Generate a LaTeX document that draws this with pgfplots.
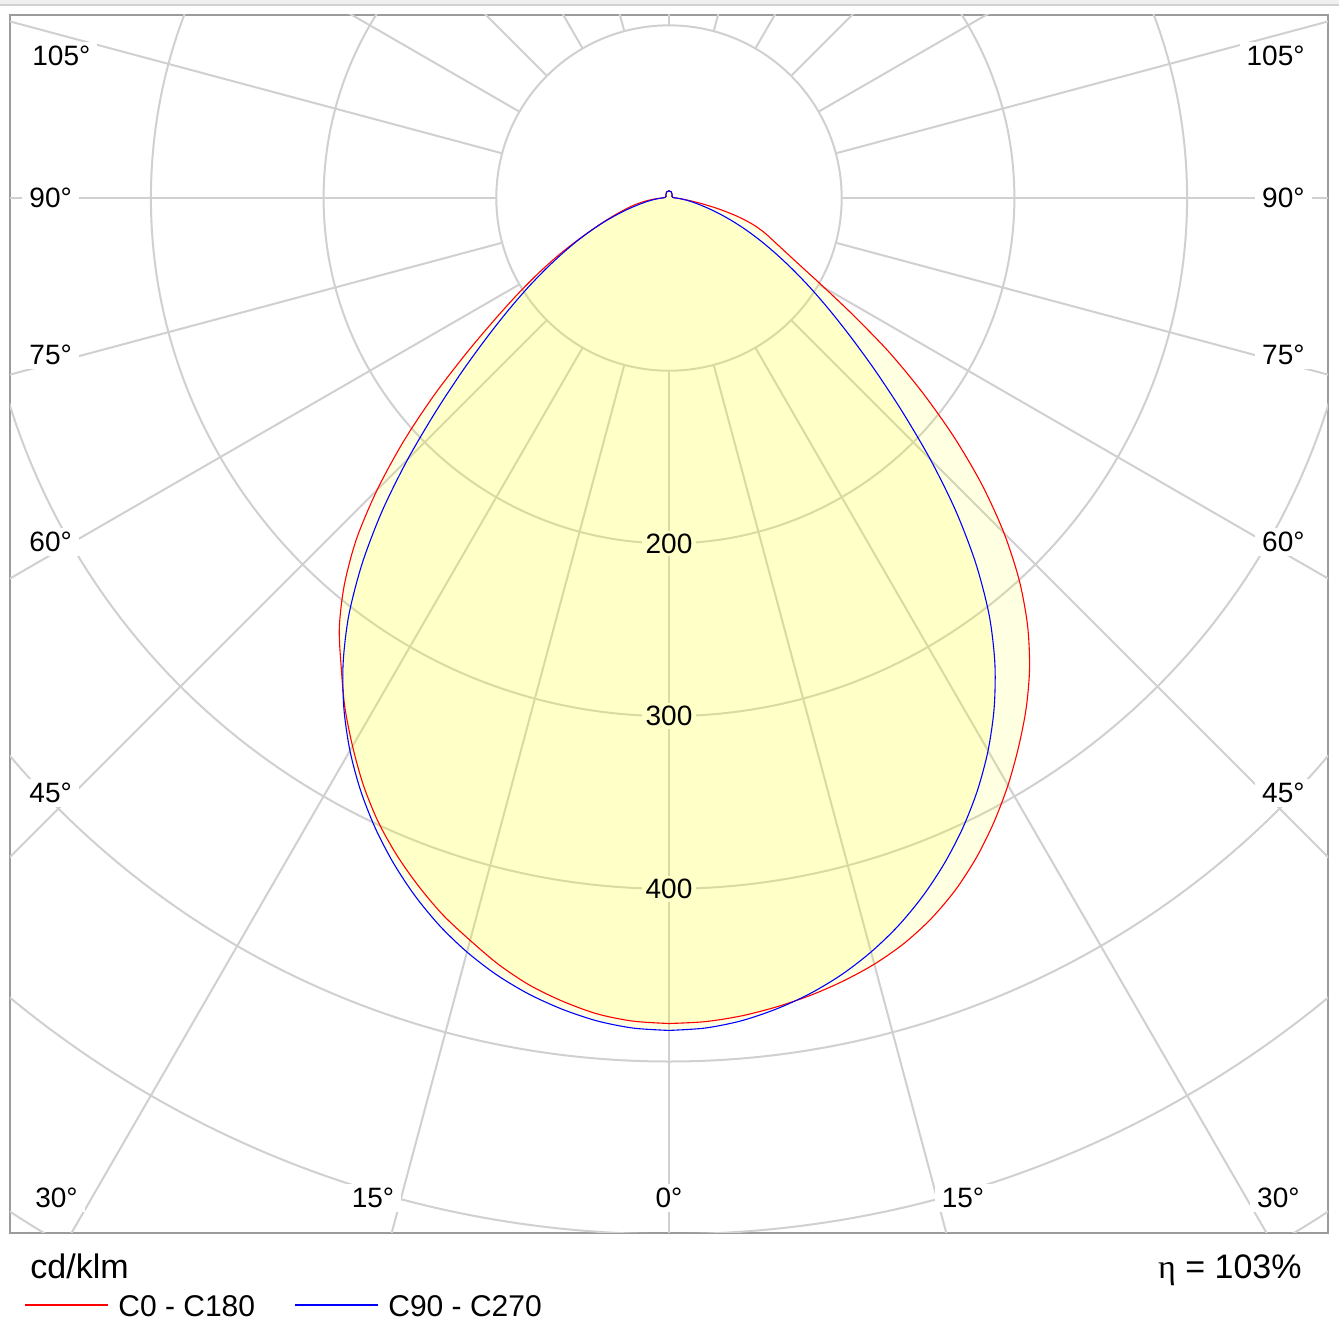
\documentclass[border=0pt]{standalone}
\usepackage{fontspec}
\setmainfont{Liberation Sans}
\newfontfamily\etafont{Liberation Serif}
\usepackage{pgfplots}
\pgfplotsset{compat=1.18}
\usepackage{pgfplotstable}
\definecolor{gridc}{RGB}{208,208,208}
\definecolor{framec}{RGB}{155,155,155}
\definecolor{fillc}{RGB}{255,255,0}
\definecolor{lblbg}{RGB}{255,255,200}

% C0 (right, g>0) and C180 (left, g<0): gamma in degrees, I in cd/klm
\pgfplotstableread{
g I
0 478
2.5 477.4
5 475.5
7.5 472.6
10 469.0
12.5 464.6
15 459.3
17.5 452.6
20 444.0
22.5 433.6
25 421.3
27.5 407.5
30 392.6
32.5 376.8
35 360.6
37.5 343.0
40 323.0
42.5 300.2
45 274.3
47.5 245.9
50 215.6
52.5 185.0
55 155.6
57.5 127
60 104
62.5 87
65 75
67.5 66
70 59
72.5 51
75 41
77.5 30
80 20
82.5 13
85 8.5
87.5 5.8
90 4.2
100 2.2
120 2
140 2.8
160 3.8
180 4.2
-160 3.8
-140 2.8
-120 2
-100 2.2
-90 4.2
-87.5 6.8
-85 10
-82.5 13.8
-80 18.2
-77.5 22.6
-75 27.2
-72.5 33.1
-70 40.2
-67.5 48.4
-65 59.5
-62.5 72.8
-60 87.7
-57.5 104.4
-55 124
-52.5 148.4
-50 177.5
-47.5 208.4
-45 239
-42.5 267.9
-40 292.5
-37.5 313.6
-35 331
-32.5 349.4
-30 366.5
-27.5 383.3
-25 398.5
-22.5 411.9
-20 424
-17.5 435.3
-15 445
-12.5 454.8
-10 463
-7.5 469.3
-5 474.3
-2.5 477.1
0 478
}\redtab

% C90 (right) and C270 (left)
\pgfplotstableread{
g I
0 482
2.5 481.1
5 478.3
7.5 473.8
10 468.0
12.5 460.8
15 452.0
17.5 441.8
20 430.0
22.5 416.9
25 402.5
27.5 386.8
30 369.5
32.5 350.4
35 329.0
37.5 304.6
40 276.5
42.5 245.9
45 214.0
47.5 183.4
50 156.5
52.5 133.4
55 114.0
57.5 97.4
60 82.7
62.5 69.8
65 58.5
67.5 48.4
70 39.2
72.5 31.1
75 24.2
77.5 18.6
80 14.2
82.5 10.8
85 8.0
87.5 5.8
90 4.2
100 2.2
120 2
140 2.8
160 3.8
180 4.2
-160 3.8
-140 2.8
-120 2
-100 2.2
-90 4.2
-87.5 5.8
-85 8.0
-82.5 10.8
-80 14.2
-77.5 18.6
-75 24.2
-72.5 31.1
-70 39.2
-67.5 48.4
-65 58.5
-62.5 69.8
-60 82.7
-57.5 97.4
-55 114.0
-52.5 133.4
-50 156.5
-47.5 183.4
-45 214.0
-42.5 245.9
-40 276.5
-37.5 304.6
-35 329.0
-32.5 350.4
-30 369.5
-27.5 386.8
-25 402.5
-22.5 416.9
-20 430.0
-17.5 441.8
-15 452.0
-12.5 460.8
-10 468.0
-7.5 473.8
-5 478.3
-2.5 481.1
0 482
}\bluetab

\begin{document}
\begin{tikzpicture}
\useasboundingbox (0,0) rectangle (669.5pt,669pt);
\fill[black!6] (0,666.5pt) rectangle (669.5pt,669pt);
\draw[black!18, line width=0.8pt] (0,666.4pt) -- (669.5pt,666.4pt);
\begin{axis}[
  at={(5pt,52.5pt)}, anchor=south west,
  x=0.86346pt, y=0.86346pt,
  xmin=-381.6, xmax=381.6, ymin=-599.3, ymax=106,
  xtick=\empty, ytick=\empty,
  axis line style={draw=framec, line width=1.1pt},
  clip=true,
]
% grid circles
\pgfplotsinvokeforeach{100,200,...,800}{
  \draw[gridc, line width=1pt] (axis cs:0,0) circle[radius=#1];
}
% radial lines
\pgfplotsinvokeforeach{0,15,...,345}{
  \draw[gridc, line width=1pt] (axis cs:{100*sin(#1)},{-100*cos(#1)}) -- (axis cs:{1000*sin(#1)},{-1000*cos(#1)});
}
% angle labels
\tikzset{alab/.style={fill=white, inner xsep=3.5pt, inner ysep=2pt, font=\fontsize{14}{16}\selectfont}}
\node[alab, anchor=west] at (axis cs:-372.9,82.2) {105°};
\node[alab, anchor=west] at (axis cs:-374.6,0) {90°};
\node[alab, anchor=west] at (axis cs:-374.6,-90.9) {75°};
\node[alab, anchor=west] at (axis cs:-374.6,-199.2) {60°};
\node[alab, anchor=west] at (axis cs:-374.6,-344.5) {45°};
\node[alab, anchor=east] at (axis cs:372.3,82.2) {105°};
\node[alab, anchor=east] at (axis cs:372.3,0) {90°};
\node[alab, anchor=east] at (axis cs:372.3,-90.9) {75°};
\node[alab, anchor=east] at (axis cs:372.3,-199.2) {60°};
\node[alab, anchor=east] at (axis cs:372.3,-344.5) {45°};
\node[alab, anchor=west] at (axis cs:-371.2,-579) {30°};
\node[alab, anchor=center] at (axis cs:-171.4,-579) {15°};
\node[alab, anchor=center] at (axis cs:0,-579) {0°};
\node[alab, anchor=center] at (axis cs:170.2,-579) {15°};
\node[alab, anchor=east] at (axis cs:369.4,-579) {30°};
% filled areas
\addplot[draw=none, fill=fillc, fill opacity=0.115, smooth]
  table[x expr={\thisrow{I}*sin(\thisrow{g})}, y expr={-\thisrow{I}*cos(\thisrow{g})}] {\redtab};
\addplot[draw=none, fill=fillc, fill opacity=0.115, smooth]
  table[x expr={\thisrow{I}*sin(\thisrow{g})}, y expr={-\thisrow{I}*cos(\thisrow{g})}] {\bluetab};
% value labels
\tikzset{vlab/.style={fill=lblbg, inner xsep=2pt, inner ysep=1.5pt, font=\fontsize{14}{16}\selectfont}}
\node[vlab] at (axis cs:0,-200) {200};
\node[vlab] at (axis cs:0,-300) {300};
\node[vlab] at (axis cs:0,-400) {400};
% curves
\addplot[red, line width=0.55pt, smooth]
  table[x expr={\thisrow{I}*sin(\thisrow{g})}, y expr={-\thisrow{I}*cos(\thisrow{g})}] {\redtab};
\addplot[blue, line width=0.55pt, smooth]
  table[x expr={\thisrow{I}*sin(\thisrow{g})}, y expr={-\thisrow{I}*cos(\thisrow{g})}] {\bluetab};
\end{axis}
% legend and captions
\draw[red, line width=0.55pt] (12.5pt,16.5pt) -- (54pt,16.5pt);
\node[anchor=base west, inner sep=0pt, font=\fontsize{15}{18}\selectfont] at (59pt,10.8pt) {C0 - C180};
\draw[blue, line width=0.55pt] (147.5pt,16.5pt) -- (189pt,16.5pt);
\node[anchor=base west, inner sep=0pt, font=\fontsize{15}{18}\selectfont] at (194pt,10.8pt) {C90 - C270};
\node[anchor=base west, inner sep=0pt, font=\fontsize{17}{20}\selectfont] at (15pt,29.5pt) {cd/klm};
\node[anchor=base east, inner sep=0pt, font=\fontsize{17}{20}\selectfont] at (651pt,29.5pt) {{\etafont η} = 103\%};
\end{tikzpicture}
\end{document}
